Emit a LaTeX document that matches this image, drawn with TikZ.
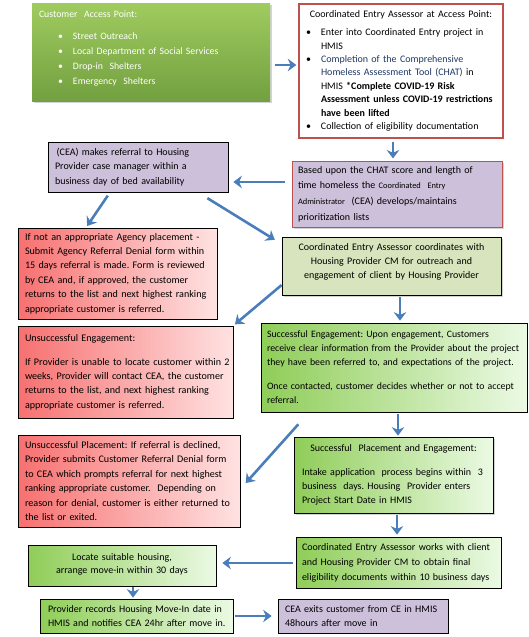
\documentclass[tikz,border=0pt]{standalone}
\usepackage{fontspec}
\setmainfont{Carlito}
\usetikzlibrary{arrows.meta,shadows,calc}
\definecolor{arrblue}{HTML}{4A7EBB}
\definecolor{redL}{HTML}{F77070}
\definecolor{redR}{HTML}{FFE2E2}
\definecolor{grnL}{HTML}{8FCD58}
\definecolor{grnR}{HTML}{EBFAE4}
\definecolor{capT}{HTML}{9FCB5F}
\definecolor{capB}{HTML}{73A040}
\definecolor{purp}{HTML}{CCC0DA}
\definecolor{lgreen}{HTML}{D7E4BD}
\definecolor{redline}{HTML}{C0504D}
\definecolor{navy}{HTML}{1F3864}
\newcommand{\ls}[1]{\hspace*{#1pt}}
\newcommand{\vfix}[1]{\par\vspace{#1}}
\tikzset{
  bx/.style={draw=black, line width=0.7pt, inner xsep=3pt, inner ysep=3pt, align=left,
    font=\fontsize{10}{14}\selectfont,
    execute at begin node={\frenchspacing\hyphenpenalty=10000\exhyphenpenalty=10000}},
  redgrad/.style={bx, left color=redL, right color=redR, font=\fontsize{10.1}{14.4}\selectfont},
  grngrad/.style={bx, left color=grnL, right color=grnR},
  purpbox/.style={bx, fill=purp},
  shad/.style={drop shadow={shadow xshift=2pt, shadow yshift=-2pt, opacity=0.35, fill=gray}},
  arr/.style={draw=arrblue, line width=2.6pt, -{Stealth[length=8.5pt,width=12.5pt]}},
}
\begin{document}
\begin{tikzpicture}[x=1pt,y=-1pt]
\useasboundingbox (0,0) rectangle (528,637);

% Customer access point
\node[bx, draw=none, top color=capT, bottom color=capB, shad, text=white,
  minimum width=238pt, minimum height=98pt, text width=232pt,
  font=\fontsize{9.8}{15}\selectfont] (cap) at (151,52)
  {\ls{4}Customer\ \ Access Point:\\[7pt]
   \ls{23}\makebox[15pt][l]{\textbullet}Street Outreach\\
   \ls{23}\makebox[15pt][l]{\textbullet}Local Department of Social Services\\
   \ls{23}\makebox[15pt][l]{\textbullet}Drop-in\ \ Shelters\\
   \ls{23}\makebox[15pt][l]{\textbullet}Emergency\ \ Shelters\\[-7pt]\mbox{}};

% Coordinated Entry Assessor at access point
\node[bx, draw=redline, line width=1.4pt, fill=white,
  minimum width=204pt, minimum height=134pt, text width=198pt,
  font=\fontsize{10}{13.4}\selectfont] (cea) at (401,71)
  {\makebox[198pt][c]{Coordinated Entry Assessor at Access Point:}\\[4.5pt]
   \ls{4}\makebox[15pt][l]{\textbullet}Enter into Coordinated Entry project in\\
   \ls{19}HMIS\\
   \ls{4}\makebox[15pt][l]{\textbullet}\textcolor{navy}{Completion of the Comprehensive}\\
   \ls{19}\textcolor{navy}{Homeless Assessment Tool (CHAT)} in\\
   \ls{19}HMIS \textbf{*Complete COVID-19 Risk}\\
   \ls{19}\textbf{Assessment unless COVID-19 restrictions}\\
   \ls{19}\textbf{have been lifted}\\
   \ls{4}\makebox[15pt][l]{\textbullet}Collection of eligibility documentation};

% referral
\node[purpbox, minimum width=180pt, minimum height=50pt, text width=174pt,
  font=\fontsize{10}{14.5}\selectfont] (ref) at (138,167)
  {\ls{4}\,(CEA) makes referral to Housing\\
   \ls{4}Provider case manager within a\\
   \ls{4}business day of bed availability};

% CHAT
\node[purpbox, draw=redline, line width=1pt, shad, minimum width=210pt, minimum height=66pt,
  text width=204pt, font=\fontsize{10}{15.7}\selectfont] (chat) at (397,194)
  {\ls{3}Based upon the CHAT score and length of\\
   \ls{3}time homeless the {\fontsize{8.4}{15.7}\selectfont Coordinated\ \ Entry}\\
   \ls{3}{\fontsize{8.4}{15.7}\selectfont Administrator}\ \ (CEA) develops/maintains\\
   \ls{3}prioritization lists};

% Denial
\node[redgrad, minimum width=199pt, minimum height=91pt, text width=193pt] (den) at (117.5,273.5)
  {\ls{4}If not an appropriate Agency placement -\\
   \ls{4}Submit Agency Referral Denial form within\\
   \ls{4}15 days referral is made. Form is reviewed\\
   \ls{4}by CEA and, if approved, the customer\\
   \ls{4}returns to the list and next highest ranking\\
   \ls{4}appropriate customer is referred.};

% coordinates
\node[bx, fill=lgreen, shad, align=center, minimum width=219pt, minimum height=58pt,
  text width=213pt] (coord) at (391.5,266)
  {Coordinated Entry Assessor coordinates with\\
   Housing Provider CM for outreach and\\
   engagement of client by Housing Provider\\[-4pt]\mbox{}};

% Unsuccessful engagement
\node[redgrad, minimum width=215pt, minimum height=92pt, text width=209pt] (ueng) at (125.5,372)
  {\ls{4}\mbox{Unsuccessful Engagement:}\\[9.5pt]
   \ls{4}\mbox{If Provider is unable to locate customer within 2}\\
   \ls{4}\mbox{weeks, Provider will contact CEA, the customer}\\
   \ls{4}\mbox{returns to the list, and next highest ranking}\\
   \ls{4}\mbox{appropriate customer is referred.}};

% Successful engagement
\node[grngrad, minimum width=266pt, minimum height=89pt, text width=260pt,
  font=\fontsize{9.8}{14}\selectfont] (seng) at (394,367.5)
  {\ls{3}\mbox{Successful Engagement: Upon engagement, Customers}\\
   \ls{3}\mbox{receive clear information from the Provider about the project}\\
   \ls{3}\mbox{they have been referred to, and expectations of the project.}\\[10pt]
   \ls{3}\mbox{Once contacted, customer decides whether or not to accept}\\
   \ls{3}\mbox{referral.}};

% Unsuccessful placement
\node[redgrad, minimum width=222pt, minimum height=92pt, text width=216pt] (upl) at (129,481)
  {\ls{4}\mbox{Unsuccessful Placement: If referral is declined,}\\
   \ls{4}\mbox{Provider submits Customer Referral Denial form}\\
   \ls{4}\mbox{to CEA which prompts referral for next highest}\\
   \ls{4}\mbox{ranking appropriate customer.\ \ Depending on}\\
   \ls{4}\mbox{reason for denial, customer is either returned to}\\
   \ls{4}\mbox{the list or exited.}};

% Successful placement
\node[grngrad, shad, minimum width=199pt, minimum height=76pt, text width=193pt] (spl) at (393.5,475)
  {\makebox[193pt][c]{Successful\ \ Placement and Engagement:}\\[10pt]
   \ls{5}Intake application\ \ process begins within\ \ 3\\
   \ls{5}business\ \ days. Housing\ \ Provider enters\\
   \ls{5}Project Start Date in HMIS};

% works with client
\node[grngrad, minimum width=205pt, minimum height=51pt, text width=199pt,
  font=\fontsize{10}{15}\selectfont] (works) at (398.5,562.5)
  {\ls{3}Coordinated Entry Assessor works with client\\
   \ls{3}and Housing Provider CM to obtain final\\
   \ls{3}eligibility documents within 10 business days};

% locate housing
\node[grngrad, align=center, minimum width=188pt, minimum height=41pt, text width=182pt,
  font=\fontsize{10}{13.5}\selectfont] (loc) at (122,565.5)
  {Locate suitable housing,\\
   arrange move-in within 30 days\\[-10pt]\mbox{}};

% provider records
\node[grngrad, minimum width=193pt, minimum height=34pt, text width=187pt] (rec) at (136.5,616)
  {\ls{5}Provider records Housing Move-In date in\\
   \ls{5}HMIS and notifies CEA 24hr after move in.};

% exits
\node[purpbox, minimum width=170pt, minimum height=34pt, text width=164pt,
  font=\fontsize{10}{13.5}\selectfont] (exits) at (363,616)
  {\ls{4}CEA exits customer from CE in HMIS\\
   \ls{4}48hours after move in};

% arrows
\draw[arr, shorten <=5pt, shorten >=2pt] (cap.east |- 0,65) -- (cea.west |- 0,65);
\draw[arr, shorten <=3pt, shorten >=2pt] (cea.south -| 393,0) -- (chat.north -| 393,0);
\draw[arr, shorten <=7pt, shorten >=5pt] (chat.west |- 0,182) -- (ref.east |- 0,182);
\draw[arr, shorten <=4pt, shorten >=2pt] (ref.south -| 110,0) -- (den.north -| 86,0);
\draw[arr, shorten <=11pt, shorten >=8pt] (ref.south -| 198,0) -- (coord.west |- 0,244);
\draw[arr, shorten <=2pt, shorten >=2pt] (coord.south -| 400,0) -- (seng.north -| 400,0);
\draw[arr, shorten >=2pt] (coord.west |- 0,285) -- (ueng.north east);
\draw[arr, shorten <=2pt, shorten >=1pt] (seng.south -| 398,0) -- (spl.north -| 398,0);
\draw[arr, shorten <=16pt, shorten >=8pt] (seng.south -| 309,0) -- (upl.east |- 0,489);
\draw[arr, shorten <=2pt, shorten >=2pt] (spl.south -| 397,0) -- (works.north -| 397,0);
\draw[arr, shorten <=3pt, shorten >=6pt] (works.west |- 0,563) -- (loc.east |- 0,563);
\draw[arr, shorten <=1pt, shorten >=1pt] (loc.south -| 133,0) -- (rec.north -| 133,0);
\draw[arr, shorten <=2pt, shorten >=6pt] (rec.east |- 0,616) -- (exits.west |- 0,616);
\end{tikzpicture}
\end{document}
